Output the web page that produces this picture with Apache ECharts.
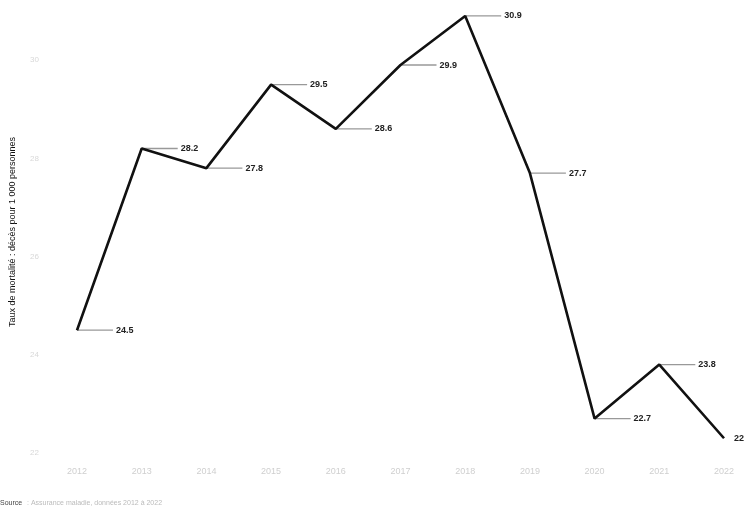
<!DOCTYPE html>
<html>
<head>
<meta charset="utf-8">
<script src="https://cdn.jsdelivr.net/npm/echarts@6/dist/echarts.min.js"></script>
<style>
html,body{margin:0;padding:0;background:#fff;}
#chart{width:744px;height:517px;}
</style>
</head>
<body>
<div id="chart"></div>
<script>
var categories = ["2012","2013","2014","2015","2016","2017","2018","2019","2020","2021","2022"];
var values = [24.5, 28.2, 27.8, 29.5, 28.6, 29.9, 30.9, 27.7, 22.7, 23.8, 22.3];
var yTicks = [22, 24, 26, 28, 30];
var yName = "Taux de mortalité : décès pour 1 000 personnes";
var sourceLabel = "Source";
var sourceText = ": Assurance maladie, données 2012 à 2022";

var chart = echarts.init(document.getElementById('chart'));
chart.setOption({
  animation: false,
  backgroundColor: '#fff',
  grid: {left: 76, right: 20, top: 11, bottom: 64},
  xAxis: {
    type: 'category',
    data: categories,
    boundaryGap: false,
    axisLine: {show: false},
    axisTick: {show: false},
    axisLabel: {color: '#cfcfcf', fontSize: 9, margin: 14, fontFamily: 'Liberation Sans'}
  },
  yAxis: {
    type: 'value',
    min: 22,
    max: 31,
    interval: 2,
    name: yName,
    nameLocation: 'middle',
    nameGap: 60,
    nameTextStyle: {color: '#111', fontSize: 9, fontFamily: 'Liberation Sans'},
    splitLine: {show: false},
    axisLine: {show: false},
    axisTick: {show: false},
    axisLabel: {
      color: '#d8d8d8', fontSize: 8, margin: 38, fontFamily: 'Liberation Sans',
      formatter: function (v) { return yTicks.indexOf(v) >= 0 ? String(v) : ''; }
    }
  },
  series: [
    {
      type: 'line',
      data: values,
      symbol: 'none',
      lineStyle: {color: '#111', width: 2.6},
      z: 3
    },
    {
      type: 'custom',
      data: values.map(function (v, i) { return [i, v]; }),
      encode: {x: 0, y: 1},
      z: 2,
      renderItem: function (params, api) {
        var i = api.value(0);
        var v = api.value(1);
        var pt = api.coord([i, v]);
        var last = (params.dataIndex === values.length - 1);
        var lineLen = last ? 0 : 36;
        var children = [];
        if (!last) {
          children.push({
            type: 'line',
            shape: {x1: pt[0], y1: pt[1], x2: pt[0] + lineLen, y2: pt[1]},
            style: {stroke: '#999', lineWidth: 1.3}
          });
        }
        children.push({
          type: 'text',
          x: pt[0] + (last ? 10 : lineLen + 3),
          y: pt[1],
          style: {
            text: v.toFixed(1),
            fill: '#222',
            fontSize: 9,
            fontWeight: 'bold',
            fontFamily: 'Liberation Sans',
            verticalAlign: 'middle',
            align: 'left'
          }
        });
        return {type: 'group', children: children};
      }
    }
  ],
  graphic: [
    {type: 'text', left: 0, top: 500, style: {text: sourceLabel, fill: '#444', fontSize: 7, fontFamily: 'Liberation Sans'}},
    {type: 'text', left: 27, top: 500, style: {text: sourceText, fill: '#bbb', fontSize: 7, fontFamily: 'Liberation Sans'}}
  ]
});
</script>
</body>
</html>
